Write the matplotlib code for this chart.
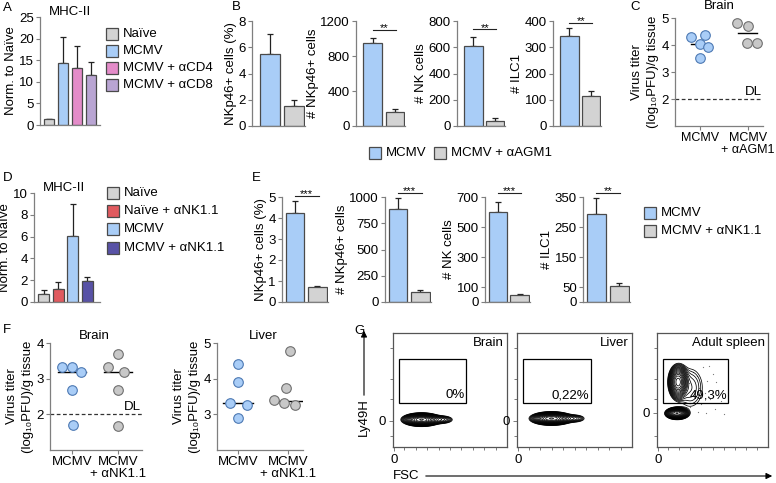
import numpy as np
import matplotlib
matplotlib.use("Agg")
import matplotlib.pyplot as plt
from matplotlib.patches import Rectangle, FancyArrowPatch

plt.rcParams["font.family"] = ["Liberation Sans", "DejaVu Sans"]
plt.rcParams["font.size"] = 9.5

# ---- data ----
a_groups = ["Naïve", "MCMV", "MCMV + αCD4", "MCMV + αCD8"]
a_vals = [1.3, 14.3, 13.2, 11.5]
a_errs = [0.15, 6.0, 5.0, 3.0]

b_groups = ["MCMV", "MCMV + αAGM1"]
b_pct = [5.47, 1.54]
b_pct_err = [1.52, 0.43]
b_nkp46 = [951, 157]
b_nkp46_err = [57, 39]
b_nk = [606, 41]
b_nk_err = [73, 18]
b_ilc1 = [343, 115]
b_ilc1_err = [29, 20]

c_mcmv = [4.28, 4.38, 4.04, 3.91, 3.52]
c_agm1 = [4.81, 4.69, 4.07, 4.07]
c_lines = [4.05, 4.45]
c_jit_mcmv = [-0.2, 0.1, 0.0, 0.16, 0.0]
c_jit_agm1 = [-0.22, 0.0, -0.02, 0.19]

d_groups = ["Naïve", "Naïve + αNK1.1", "MCMV", "MCMV + αNK1.1"]
d_vals = [0.77, 1.23, 6.06, 1.94]
d_errs = [0.3, 0.62, 2.92, 0.31]

e_groups = ["MCMV", "MCMV + αNK1.1"]
e_pct = [4.23, 0.72]
e_pct_err = [0.56, 0.05]
e_nkp46 = [888, 96]
e_nkp46_err = [102, 22]
e_nk = [599, 49]
e_nk_err = [67, 7]
e_ilc1 = [293, 53]
e_ilc1_err = [53, 12]

f_brain_mcmv = [3.33, 3.33, 3.19, 2.69, 1.70]
f_brain_nk = [3.70, 3.33, 3.18, 2.69, 1.68]
f_brain_lines = [3.18, 3.18]
f_brain_jit_mcmv = [-0.22, 0.0, 0.2, 0.0, 0.03]
f_brain_jit_nk = [0.0, -0.22, 0.13, 0.0, 0.0]
f_liver_mcmv = [4.41, 3.92, 3.31, 3.25, 2.89]
f_liver_nk = [4.77, 3.75, 3.39, 3.33, 3.27]
f_liver_lines = [3.31, 3.38]
f_liver_jit_mcmv = [0.0, 0.0, -0.17, 0.17, 0.0]
f_liver_jit_nk = [0.03, -0.04, -0.29, -0.09, 0.13]

# flow populations: (x, y, sx, sy, weight) in plot units
g_titles = ["Brain", "Liver", "Adult spleen"]
g_gates = ["0%", "0,22%", "49,3%"]
brain_pops = [(0.25, 0.24, 0.065, 0.022, 1.0), (0.43, 0.24, 0.05, 0.018, 0.1)]
liver_pops = [(0.30, 0.25, 0.07, 0.022, 1.0), (0.50, 0.25, 0.05, 0.018, 0.08)]
spleen_pops = [(0.19, 0.57, 0.035, 0.06, 0.7), (0.18, 0.295, 0.04, 0.02, 1.0),
               (0.30, 0.52, 0.08, 0.12, 0.05)]
spleen_events_x = [0.32, 0.36, 0.41, 0.45, 0.50, 0.38, 0.43, 0.55, 0.34, 0.48,
                   0.58, 0.30, 0.37, 0.44, 0.52, 0.60, 0.40, 0.29, 0.47, 0.53]
spleen_events_y = [0.66, 0.62, 0.70, 0.58, 0.64, 0.52, 0.47, 0.50, 0.44, 0.42,
                   0.40, 0.35, 0.31, 0.30, 0.33, 0.29, 0.38, 0.56, 0.71, 0.57]

GRAY = "#d3d3d3"
BLUE = "#a9cdf7"
PINK = "#e48cc9"
LAV = "#b9a5d3"
RED = "#e05a5f"
NAVY = "#5852a6"
EDGE = "#4a4a4a"
SPINE = "#7f7f7f"

W, H = 776, 483
fig = plt.figure(figsize=(W / 100, H / 100), dpi=100)


def add_ax(l, t, r, b):
    return fig.add_axes([l / W, 1 - b / H, (r - l) / W, (b - t) / H])


def ftext(x, y, s, **kw):
    kw.setdefault("va", "center")
    fig.text(x / W, 1 - y / H, s, **kw)


def style(ax):
    for s in ["top", "right"]:
        ax.spines[s].set_visible(False)
    for s in ["left", "bottom"]:
        ax.spines[s].set_color(SPINE)
        ax.spines[s].set_linewidth(0.9)
    ax.tick_params(color=SPINE, length=3, width=0.8, labelsize=9.5, pad=1.5)


def legend_box(x, y, color, label):
    fig.add_artist(Rectangle((x / W, 1 - (y + 6) / H), 12 / W, 12 / H,
                             transform=fig.transFigure, facecolor=color,
                             edgecolor=EDGE, linewidth=0.9))
    ftext(x + 17, y, label, ha="left")


def bar_panel(rect, vals, errs, colors, ylim, yticks, ylabel, xlim, width, sig=None):
    ax = add_ax(*rect)
    x = np.arange(len(vals))
    ax.errorbar(x, vals, yerr=[np.zeros(len(vals)), errs], fmt="none", ecolor="#222222",
                elinewidth=0.9, capsize=2.5, capthick=0.9, zorder=1)
    ax.bar(x, vals, width=width, color=colors, edgecolor=EDGE, linewidth=0.9, zorder=2)
    ax.set_xlim(xlim)
    ax.set_ylim(ylim)
    ax.set_yticks(yticks)
    ax.set_xticks([])
    ax.set_ylabel(ylabel, labelpad=1)
    style(ax)
    if sig:
        stars, yf = sig
        tr = ax.get_xaxis_transform()
        ax.plot([0, 1.05], [yf, yf], color="#222222", lw=0.8, transform=tr, clip_on=False)
        ax.text(0.52, yf + 0.015, stars, transform=tr, ha="center", va="center", fontsize=8)
    return ax


def titer_panel(rect, sets, jits, lines, colors, edges, ylim, yticks, xlim, xlabels,
                title, title_xy, lw_half=0.3, dl=None, xsize=9.5):
    ax = add_ax(*rect)
    for i, (vals, jit) in enumerate(zip(sets, jits)):
        ax.scatter(np.array(jit) + i, vals, s=48, color=colors[i], edgecolor=edges[i],
                   linewidth=0.8, zorder=3, clip_on=False)
        ax.plot([i - lw_half, i + lw_half], [lines[i], lines[i]], color="black", lw=1.0, zorder=2)
    if dl:
        ax.axhline(2, color="#333333", lw=0.9, ls=(0, (3, 2)))
        ax.text(dl, 2.05, "DL", ha="right", va="bottom", fontsize=9.5)
    ax.set_xlim(xlim)
    ax.set_ylim(ylim)
    ax.set_yticks(yticks)
    ax.set_xticks(range(len(xlabels)))
    ax.set_xticklabels(xlabels, linespacing=1.0)
    ax.set_ylabel("Virus titer\n(log₁₀PFU)/g tissue", labelpad=2, linespacing=1.35)
    style(ax)
    ax.tick_params(axis="x", labelsize=xsize)
    ftext(*title_xy, title, ha="center")
    return ax


def flow_panel(rect, pops, title, gate_label, ytick0, events=None):
    ax = add_ax(*rect)
    xs = np.linspace(0, 1, 400)
    X, Y = np.meshgrid(xs, xs)
    Z = np.zeros_like(X)
    for cx, cy, sx, sy, w in pops:
        Z += w * np.exp(-0.5 * (((X - cx) / sx) ** 2 + ((Y - cy) / sy) ** 2))
    levels = Z.max() * np.geomspace(0.02, 0.97, 18)
    ax.contour(X, Y, Z, levels=levels, colors="black", linewidths=0.55)
    if events is not None:
        ax.scatter(events[0], events[1], s=0.8, color="#777777", linewidths=0)
    ax.add_patch(Rectangle((0.05, 0.39), 0.59, 0.38, fill=False, edgecolor="black", lw=0.9))
    ax.text(0.63, 0.40, gate_label, ha="right", va="bottom", fontsize=9.5)
    ax.text(0.97, 0.915, title, ha="right", va="center", fontsize=9.5)
    ax.set_xlim(0, 1)
    ax.set_ylim(0, 1)
    for s in ax.spines.values():
        s.set_color("#555555")
        s.set_linewidth(0.9)
    ax.set_xticks([0.01])
    ax.set_xticklabels(["0"])
    ax.set_yticks([ytick0])
    ax.set_yticklabels(["0"])
    ax.set_xticks([0.1, 0.2, 0.3, 0.4, 0.5, 0.6, 0.7, 0.8, 0.9], minor=True)
    ax.set_yticks([0.1, 0.42, 0.6, 0.87], minor=True)
    ax.tick_params(which="both", color="#666666", width=0.6, labelsize=9.5, pad=2)
    ax.tick_params(which="major", length=3)
    ax.tick_params(which="minor", length=2)
    return ax


# ---- A ----
bar_panel((40, 17, 100, 125), a_vals, a_errs, [GRAY, BLUE, PINK, LAV], (0, 25),
          [0, 5, 10, 15, 20, 25], "Norm. to Naïve", (-0.64, 3.64), 0.78)
ftext(70, 12, "MHC-II", ha="center")
for i, (lab, col) in enumerate(zip(a_groups, [GRAY, BLUE, PINK, LAV])):
    legend_box(106, 34 + i * 17, col, lab)
ftext(3, 8, "A")

# ---- B ----
bx = (-0.75, 1.45)
bar_panel((252, 21, 305, 126), b_pct, b_pct_err, [BLUE, GRAY], (0, 8), [0, 2, 4, 6, 8],
          "NKp46+ cells (%)", bx, 0.84)
bar_panel((356, 21, 405, 126), b_nkp46, b_nkp46_err, [BLUE, GRAY], (0, 1200),
          [0, 400, 800, 1200], "# NKp46+ cells", bx, 0.84, ("**", 0.915))
bar_panel((457, 21, 505, 126), b_nk, b_nk_err, [BLUE, GRAY], (0, 800),
          [0, 200, 400, 600, 800], "# NK cells", bx, 0.84, ("**", 0.92))
bar_panel((553, 21, 601, 126), b_ilc1, b_ilc1_err, [BLUE, GRAY], (0, 400),
          [0, 100, 200, 300, 400], "# ILC1", bx, 0.84, ("**", 0.985))
legend_box(369, 153, BLUE, b_groups[0])
legend_box(434, 153, GRAY, b_groups[1])
ftext(232, 7, "B")

# ---- C ----
titer_panel((675, 18, 763, 126), [c_mcmv, c_agm1], [c_jit_mcmv, c_jit_agm1], c_lines,
            [BLUE, "#c8c8c8"], ["#4d79b3", "#6f6f6f"], (1, 5), [2, 3, 4, 5],
            (-0.53, 1.32), ["MCMV", "MCMV\n+ αAGM1"], "Brain", (719, 6), lw_half=0.2,
            dl=1.3, xsize=9)
ftext(630, 7, "C")

# ---- D ----
bar_panel((34, 193, 100, 302), d_vals, d_errs, [GRAY, RED, BLUE, NAVY], (0, 10),
          [0, 2, 4, 6, 8, 10], "Norm. to Naïve", (-0.68, 3.88), 0.78)
ftext(64, 188, "MHC-II", ha="center")
for lab, col, yy in zip(d_groups, [GRAY, RED, BLUE, NAVY], [193, 211, 229, 248]):
    legend_box(107, yy, col, lab)
ftext(3, 178, "D")

# ---- E ----
ex = (-0.58, 1.47)
bar_panel((282, 197, 328, 302), e_pct, e_pct_err, [BLUE, GRAY], (0, 5), [0, 1, 2, 3, 4, 5],
          "NKp46+ cells (%)", ex, 0.84, ("***", 1.01))
bar_panel((385, 197, 431, 302), e_nkp46, e_nkp46_err, [BLUE, GRAY], (0, 1000),
          [0, 250, 500, 750, 1000], "# NKp46+ cells", ex, 0.84, ("***", 1.04))
bar_panel((485, 197, 530, 302), e_nk, e_nk_err, [BLUE, GRAY], (0, 700),
          [0, 100, 300, 500, 700], "# NK cells", ex, 0.84, ("***", 1.04))
bar_panel((583, 197, 630, 302), e_ilc1, e_ilc1_err, [BLUE, GRAY], (0, 350),
          [0, 50, 150, 250, 350], "# ILC1", ex, 0.84, ("**", 1.04))
legend_box(644, 213, BLUE, e_groups[0])
legend_box(644, 231, GRAY, e_groups[1])
ftext(252, 178, "E")

# ---- F ----
titer_panel((50, 343, 142, 450), [f_brain_mcmv, f_brain_nk], [f_brain_jit_mcmv, f_brain_jit_nk],
            f_brain_lines, [BLUE, "#c8c8c8"], ["#4d79b3", "#6f6f6f"], (1, 4), [2, 3, 4],
            (-0.48, 1.52), ["MCMV", "MCMV\n+ αNK1.1"], "Brain", (94, 336), dl=1.5)
titer_panel((217, 343, 303, 450), [f_liver_mcmv, f_liver_nk], [f_liver_jit_mcmv, f_liver_jit_nk],
            f_liver_lines, [BLUE, "#c8c8c8"], ["#4d79b3", "#6f6f6f"], (2, 5), [3, 4, 5],
            (-0.42, 1.3), ["MCMV", "MCMV\n+ αNK1.1"], "Liver", (263, 336))
ftext(3, 330, "F")

# ---- G ----
flow_panel((393, 333, 507, 447), brain_pops, g_titles[0], g_gates[0], 0.23)
flow_panel((517, 333, 632, 447), liver_pops, g_titles[1], g_gates[1], 0.23)
flow_panel((657, 333, 768, 447), spleen_pops, g_titles[2], g_gates[2], 0.30,
           events=(spleen_events_x, spleen_events_y))
ftext(354, 331, "G")
ftext(364, 417, "Ly49H", rotation=90, ha="center")
fig.add_artist(FancyArrowPatch((364 / W, 1 - 398 / H), (364 / W, 1 - 328 / H),
                               transform=fig.transFigure, arrowstyle="-|>",
                               mutation_scale=9, lw=0.8, color="black"))
ftext(393, 476, "FSC", ha="left")
fig.add_artist(FancyArrowPatch((423 / W, 1 - 476 / H), (775 / W, 1 - 476 / H),
                               transform=fig.transFigure, arrowstyle="-|>",
                               mutation_scale=9, lw=0.8, color="black"))

fig.savefig("out.png", dpi=100)
